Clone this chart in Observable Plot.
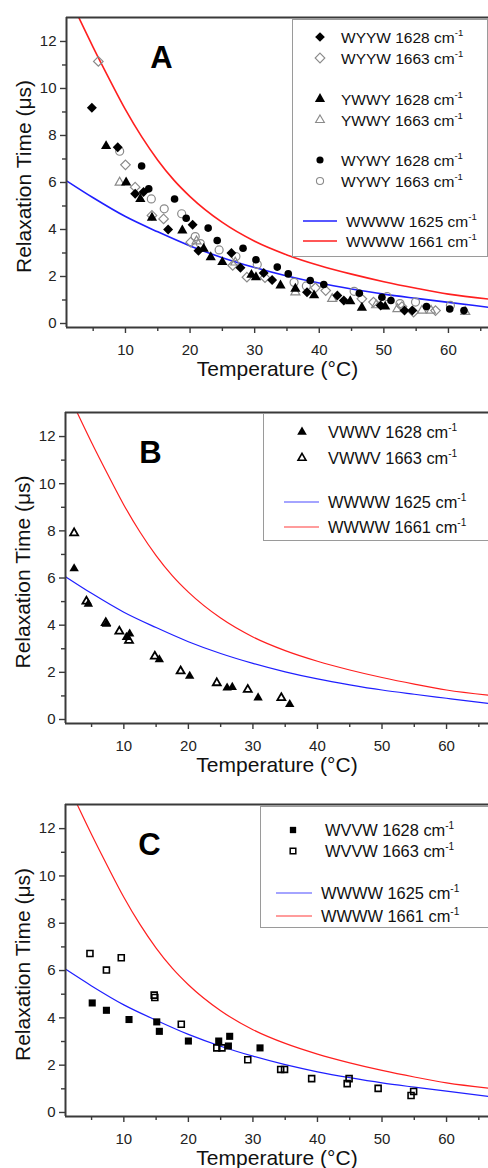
<!DOCTYPE html>
<html><head><meta charset="utf-8">
<script src="https://cdn.jsdelivr.net/npm/d3@7"></script>
<script src="https://cdn.jsdelivr.net/npm/@observablehq/plot@0.6"></script>
<style>
body{margin:0;background:#fff;}
#root{position:relative;width:488px;height:1168px;overflow:hidden;font-family:"Liberation Sans",Arial,sans-serif;}
</style></head><body><div id="root"></div>
<script>
// ---- reference curves (WWWW) ----
const fit1625T = [1, 5, 10, 15, 20, 25, 30, 35, 40, 45, 50, 55, 60, 66.5];
const fit1625V = [6.05, 5.35, 4.55, 3.9, 3.3, 2.8, 2.38, 2.02, 1.72, 1.47, 1.25, 1.07, 0.9, 0.68];
const fit1661T = [2.8, 5, 7.5, 10, 12.5, 15, 17.5, 20, 25, 30, 35, 40, 45, 50, 55, 60, 66.5];
const fit1661V = [13.0, 11.75, 10.4, 9.1, 7.95, 6.95, 6.1, 5.4, 4.3, 3.5, 2.92, 2.47, 2.1, 1.78, 1.5, 1.25, 1.03];

// ---- panel A ----
const wyyw1628T = [4.8, 8.8, 11.5, 12.8, 16.6, 20.4, 21.3, 26.4, 27.8, 31.4, 32.7, 38.1, 42.8, 43.8, 49.5, 53.2, 54.4];
const wyyw1628V = [9.18, 7.5, 5.52, 5.6, 4.0, 4.2, 3.1, 3.0, 2.37, 2.15, 1.85, 1.33, 1.19, 0.98, 0.77, 0.55, 0.55];
const wyyw1663T = [5.8, 10.0, 11.5, 14.1, 15.9, 20.1, 26.6, 28.8, 31.6, 39.4, 41.0, 46.6, 48.4, 52.8, 54.6, 58.0];
const wyyw1663V = [11.15, 6.75, 5.8, 4.6, 4.45, 3.46, 2.47, 1.97, 1.95, 1.52, 1.4, 1.05, 0.91, 0.72, 0.48, 0.55];
const ywwy1628T = [7.0, 10.1, 12.3, 14.1, 18.8, 22.1, 23.2, 25.0, 29.5, 30.2, 34.0, 36.3, 39.2, 44.8, 46.6, 50.2];
const ywwy1628V = [7.55, 6.0, 5.3, 4.5, 3.96, 3.18, 2.82, 2.61, 2.07, 1.97, 1.62, 1.48, 1.2, 0.95, 0.67, 0.72];
const ywwy1663T = [9.1, 21.0, 27.0, 36.3, 42.0, 48.8, 52.1, 55.9, 57.3, 62.6];
const ywwy1663V = [6.0, 3.5, 2.6, 1.33, 1.05, 0.78, 0.62, 0.55, 0.55, 0.5];
const wywy1628T = [12.5, 13.6, 17.6, 19.4, 22.8, 24.2, 28.2, 30.2, 33.5, 35.2, 38.6, 40.7, 46.2, 49.7, 51.1, 56.6, 60.2, 62.4];
const wywy1628V = [6.7, 5.73, 5.3, 4.48, 4.06, 3.53, 3.2, 2.71, 2.4, 2.11, 1.83, 1.66, 1.29, 1.12, 0.98, 0.72, 0.62, 0.55];
const wywy1663T = [9.1, 14.0, 16.0, 18.7, 20.8, 21.6, 24.5, 27.1, 30.4, 36.1, 38.0, 45.4, 50.5, 52.5, 54.9, 60.3];
const wywy1663V = [7.33, 5.3, 4.88, 4.67, 3.7, 3.4, 3.13, 2.85, 2.51, 1.75, 1.6, 1.37, 1.15, 0.85, 0.91, 0.77];

// ---- panel B ----
const vwwv1628T = [2.3, 4.5, 7.3, 10.4, 10.9, 15.5, 20.2, 26.0, 26.8, 30.8, 35.7];
const vwwv1628V = [6.4, 4.9, 4.05, 3.49, 3.63, 2.54, 1.84, 1.34, 1.37, 0.92, 0.64];
const vwwv1663T = [2.3, 4.2, 7.2, 9.3, 10.8, 14.8, 18.8, 24.4, 29.2, 34.4];
const vwwv1663V = [7.91, 5.01, 4.1, 3.74, 3.35, 2.68, 2.05, 1.55, 1.27, 0.92];

// ---- panel C ----
const wvvw1628T = [5.1, 7.3, 10.8, 15.1, 15.5, 20.0, 24.7, 26.2, 26.4, 31.1];
const wvvw1628V = [4.63, 4.32, 3.93, 3.83, 3.43, 3.02, 3.02, 2.81, 3.22, 2.73];
const wvvw1663T = [4.75, 7.3, 9.6, 14.7, 14.8, 18.9, 24.4, 25.2, 29.2, 34.3, 34.9, 39.1, 44.6, 44.9, 49.4, 54.5, 54.9];
const wvvw1663V = [6.72, 6.02, 6.54, 4.96, 4.86, 3.73, 2.73, 2.73, 2.23, 1.82, 1.82, 1.43, 1.22, 1.43, 1.02, 0.72, 0.89];

// ---- axes ----
const yMajor = [0, 2, 4, 6, 8, 10, 12];
const yMinor = [1, 3, 5, 7, 9, 11];
const xMajor = [10, 20, 30, 40, 50, 60];
const xMinor = [5, 15, 25, 35, 45, 55, 65];
const yLabel = "Relaxation Time (μs)";
const xLabel = "Temperature (°C)";

const zipTV = (T, V) => T.map((t, i) => ({t, v: V[i]}));
const root = document.getElementById("root");
const AX = "#3a3a3a";

function panel(cfg) {
  const lw = cfg.lineWidth;
  const marks = [
    Plot.line(zipTV(fit1625T, fit1625V), {x: "t", y: "v", stroke: "#1f1fff", strokeWidth: lw, curve: "monotone-x", clip: true}),
    Plot.line(zipTV(fit1661T, fit1661V), {x: "t", y: "v", stroke: "#ff1f1f", strokeWidth: lw, curve: "monotone-x", clip: true}),
  ];
  for (const s of cfg.series) {
    const o = {x: "t", y: "v", symbol: s.symbol, r: s.r};
    if (s.open) { o.fill = "white"; o.fillOpacity = 0; o.stroke = s.color; o.strokeWidth = s.sw; }
    else { o.fill = s.color; }
    marks.push(Plot.dot(zipTV(s.T, s.V), o));
  }
  marks.push(
    Plot.axisY(yMajor, {tickSize: 6, tickPadding: 4, label: null, stroke: AX, strokeWidth: 1.4}),
    Plot.axisY(yMinor, {tickSize: 4, tickFormat: () => "", label: null, stroke: AX, strokeWidth: 1.4}),
    Plot.axisX(xMajor, {tickSize: 6, tickPadding: 11, label: null, stroke: AX, strokeWidth: 1.4}),
    Plot.axisX(xMinor, {tickSize: 4, tickFormat: () => "", label: null, stroke: AX, strokeWidth: 1.4}),
    Plot.ruleX([cfg.xDomain[0]], {stroke: AX, strokeWidth: 2}),
    Plot.ruleY([cfg.yDomain[0]], {stroke: AX, strokeWidth: 2}),
    Plot.ruleY([cfg.yDomain[1]], {stroke: AX, strokeWidth: 2}),
    Plot.text([yLabel], {frameAnchor: "left", textAnchor: "middle", lineAnchor: "middle", dx: -42, dy: 4, rotate: -90, fontSize: 21, fill: "#111"}),
    Plot.text([xLabel], {frameAnchor: "bottom", textAnchor: "middle", lineAnchor: "middle", dy: 42, fontSize: 21, fill: "#111"}),
    Plot.text([cfg.letter], {frameAnchor: "top-left", textAnchor: "middle", lineAnchor: "middle", dx: cfg.letterDx, dy: 41, fontSize: 31, fontWeight: "bold", fill: "#000"})
  );
  const svg = Plot.plot({
    width: 488, height: cfg.height,
    marginTop: cfg.mt, marginBottom: cfg.mb, marginLeft: cfg.ml, marginRight: 0,
    x: {domain: cfg.xDomain},
    y: {domain: cfg.yDomain},
    style: {fontSize: "15px", fontFamily: '"Liberation Sans", Arial, sans-serif', color: "#222", background: "white"},
    marks
  });
  svg.style.position = "absolute";
  svg.style.left = "0px";
  svg.style.top = cfg.top + "px";
  root.appendChild(svg);
}

function legend(L) {
  const svg = d3.select(root).append("svg")
    .attr("width", L.w).attr("height", L.h)
    .style("position", "absolute").style("left", L.x + "px").style("top", L.y + "px")
    .style("font-family", '"Liberation Sans", Arial, sans-serif');
  svg.append("rect").attr("x", 0.5).attr("y", 0.5).attr("width", L.w - 1).attr("height", L.h - 1)
    .attr("fill", "white").attr("stroke", "#9a9a9a").attr("stroke-width", 1);
  for (const it of L.items) {
    if (it.line) {
      svg.append("line").attr("x1", L.lx1).attr("x2", L.lx2).attr("y1", it.y).attr("y2", it.y)
        .attr("stroke", it.line).attr("stroke-width", L.lw);
    } else {
      const p = svg.append("path").attr("transform", `translate(${L.sx},${it.y})`)
        .attr("d", d3.symbol(it.sym, it.size)());
      if (it.open) p.attr("fill", "none").attr("stroke", it.color).attr("stroke-width", it.sw);
      else p.attr("fill", it.color);
    }
    const t = svg.append("text").attr("x", it.line ? L.tx2 : L.tx).attr("y", it.y).attr("dy", "0.36em")
      .attr("font-size", L.fs).attr("fill", "#111");
    t.append("tspan").text(it.label + " cm");
    t.append("tspan").attr("dy", -L.fs * 0.42).attr("font-size", L.fs * 0.62).text("-1");
  }
}

const GRAY = "#8a8a8a";
panel({
  top: 0, height: 390, mt: 17, mb: 63, ml: 66, xDomain: [0.87, 66.2], yDomain: [-0.17, 13.02],
  letter: "A", letterDx: 95, lineWidth: 1.6,
  series: [
    {T: wyyw1663T, V: wyyw1663V, symbol: "diamond2", r: 4.3, open: true, color: GRAY, sw: 1.2},
    {T: ywwy1663T, V: ywwy1663V, symbol: "triangle2", r: 4.3, open: true, color: GRAY, sw: 1.2},
    {T: wywy1663T, V: wywy1663V, symbol: "circle", r: 4.0, open: true, color: GRAY, sw: 1.2},
    {T: wyyw1628T, V: wyyw1628V, symbol: "diamond2", r: 4.5, color: "#000"},
    {T: ywwy1628T, V: ywwy1628V, symbol: "triangle", r: 3.8, color: "#000"},
    {T: wywy1628T, V: wywy1628V, symbol: "circle", r: 3.8, color: "#000"},
  ]
});
panel({
  top: 390, height: 390, mt: 22, mb: 57, ml: 65, xDomain: [0.96, 66.5], yDomain: [-0.17, 13.02],
  letter: "B", letterDx: 85, lineWidth: 1.2,
  series: [
    {T: vwwv1663T, V: vwwv1663V, symbol: "triangle2", r: 3.8, open: true, color: "#000", sw: 1.8},
    {T: vwwv1628T, V: vwwv1628V, symbol: "triangle", r: 3.5, color: "#000"},
  ]
});
panel({
  top: 780, height: 388, mt: 24, mb: 52, ml: 65, xDomain: [0.96, 66.5], yDomain: [-0.17, 13.02],
  letter: "C", letterDx: 84, lineWidth: 1.2,
  series: [
    {T: wvvw1663T, V: wvvw1663V, symbol: "square2", r: 3.8, open: true, color: "#000", sw: 1.6},
    {T: wvvw1628T, V: wvvw1628V, symbol: "square", r: 4.0, color: "#000"},
  ]
});

legend({x: 292, y: 19, w: 196, h: 238, sx: 28, tx: 49, tx2: 54, lx1: 11, lx2: 45, lw: 1.6, fs: 15.5,
  items: [
    {y: 18, sym: d3.symbolDiamond2, size: 60, color: "#000", label: "WYYW 1628"},
    {y: 39, sym: d3.symbolDiamond2, size: 60, color: GRAY, open: true, sw: 1.1, label: "WYYW 1663"},
    {y: 80, sym: d3.symbolTriangle, size: 45, color: "#000", label: "YWWY 1628"},
    {y: 101, sym: d3.symbolTriangle2, size: 55, color: GRAY, open: true, sw: 1.1, label: "YWWY 1663"},
    {y: 141, sym: d3.symbolCircle, size: 40, color: "#000", label: "WYWY 1628"},
    {y: 162, sym: d3.symbolCircle, size: 40, color: GRAY, open: true, sw: 1.1, label: "WYWY 1663"},
    {y: 202, line: "#1f1fff", label: "WWWW 1625"},
    {y: 222, line: "#ff1f1f", label: "WWWW 1661"},
  ]});
legend({x: 263, y: 413, w: 240, h: 128, sx: 39, tx: 65, tx2: 65, lx1: 21, lx2: 56, lw: 1.2, fs: 16.4,
  items: [
    {y: 19, sym: d3.symbolTriangle, size: 40, color: "#000", label: "VWWV 1628"},
    {y: 45, sym: d3.symbolTriangle2, size: 45, color: "#000", open: true, sw: 1.6, label: "VWWV 1663"},
    {y: 89, line: "#4a4aff", label: "WWWW 1625"},
    {y: 114, line: "#ff3a3a", label: "WWWW 1661"},
  ]});
legend({x: 260, y: 806, w: 240, h: 122, sx: 33, tx: 65, tx2: 61, lx1: 16, lx2: 52, lw: 1.2, fs: 16.4,
  items: [
    {y: 24, sym: d3.symbolSquare, size: 40, color: "#000", label: "WVVW 1628"},
    {y: 45, sym: d3.symbolSquare2, size: 40, color: "#000", open: true, sw: 1.5, label: "WVVW 1663"},
    {y: 87, line: "#4a4aff", label: "WWWW 1625"},
    {y: 110, line: "#ff3a3a", label: "WWWW 1661"},
  ]});
</script></body></html>
